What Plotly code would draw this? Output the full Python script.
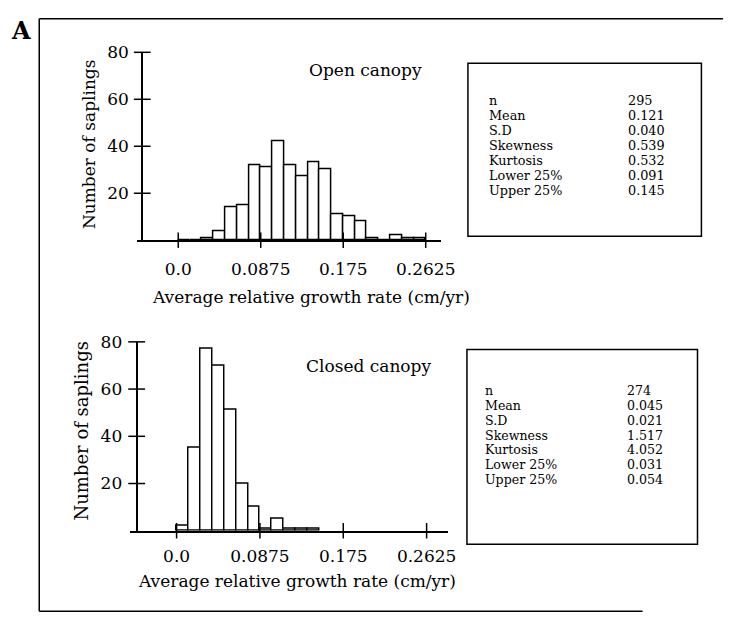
import plotly.graph_objects as go

W, H = 737, 619

# ---------------- data ----------------
bin_width = 0.0125
open_counts = [0, 0, 1, 4, 14, 15, 32, 31, 42, 32, 27, 33, 30, 11, 10, 8, 1, 0, 2, 1, 1]
closed_counts = [2, 35, 77, 70, 51, 20, 10, 1, 5, 1, 1, 1]
x_tick_vals = [0.0, 0.0875, 0.175, 0.2625]
x_tick_text = ["0.0", "0.0875", "0.175", "0.2625"]
y_tick_vals = [20, 40, 60, 80]
y_tick_text = ["20", "40", "60", "80"]
stat_names = ["n", "Mean", "S.D", "Skewness", "Kurtosis", "Lower 25%", "Upper 25%"]
open_stats = ["295", "0.121", "0.040", "0.539", "0.532", "0.091", "0.145"]
closed_stats = ["274", "0.045", "0.021", "1.517", "4.052", "0.031", "0.054"]
x_title = "Average relative growth rate (cm/yr)"
y_title = "Number of saplings"

FONT = "DejaVu Serif"


def px(x):
    return x / W


def py(y):
    return 1 - y / H


def centers(counts):
    return [(i + 0.5) * bin_width for i in range(len(counts))]


fig = go.Figure()

panels = [
    dict(counts=open_counts, xa="x", ya="y", xdom=(140, 450), x0px=181.7, ppu=961.0,
         ytop=43, ybot=234, yaxpx=145, xticklen=12, yticklen=9),
    dict(counts=closed_counts, xa="x2", ya="y2", xdom=(133, 457), x0px=180.0, ppu=971.0,
         ytop=337.3, ybot=529.3, yaxpx=139.3, xticklen=9, yticklen=10),
]

layout_axes = {}
for i, p in enumerate(panels):
    suffix = "" if i == 0 else "2"
    xr = [(p["xdom"][0] - p["x0px"]) / p["ppu"], (p["xdom"][1] - p["x0px"]) / p["ppu"]]
    yax_x = (p["yaxpx"] - p["x0px"]) / p["ppu"]
    fig.add_trace(go.Bar(
        x=centers(p["counts"]), y=p["counts"], width=bin_width,
        marker=dict(color="white", line=dict(color="black", width=1.5)),
        xaxis=p["xa"], yaxis=p["ya"], showlegend=False, hoverinfo="x+y",
    ))
    # crossing tick marks on y axis
    fig.add_trace(go.Scatter(
        x=[yax_x] * len(y_tick_vals), y=y_tick_vals, mode="markers",
        marker=dict(symbol="line-ew", size=12, line=dict(color="black", width=1.5)),
        xaxis=p["xa"], yaxis=p["ya"], showlegend=False, cliponaxis=False, hoverinfo="skip",
    ))
    # crossing tick marks on x axis
    fig.add_trace(go.Scatter(
        x=x_tick_vals, y=[0] * len(x_tick_vals), mode="markers",
        marker=dict(symbol="line-ns", size=11, line=dict(color="black", width=1.5)),
        xaxis=p["xa"], yaxis=p["ya"], showlegend=False, cliponaxis=False, hoverinfo="skip",
    ))
    layout_axes["xaxis" + suffix] = dict(
        domain=[px(p["xdom"][0]), px(p["xdom"][1])], range=xr, anchor="y" + suffix,
        tickvals=x_tick_vals, ticktext=x_tick_text, ticks="outside", ticklen=p["xticklen"],
        tickcolor="rgba(0,0,0,0)", showline=True, linecolor="black", linewidth=2,
        showgrid=False, zeroline=False, tickfont=dict(family=FONT, size=17, color="black"),
    )
    layout_axes["yaxis" + suffix] = dict(
        domain=[py(p["ybot"]), py(p["ytop"])], range=[0, 80], anchor="free",
        position=px(p["yaxpx"]),
        tickvals=y_tick_vals, ticktext=y_tick_text, ticks="outside", ticklen=p["yticklen"],
        tickcolor="rgba(0,0,0,0)", showline=True, linecolor="black", linewidth=2,
        showgrid=False, zeroline=False, tickfont=dict(family=FONT, size=17, color="black"),
    )

annotations = []


def ann(text, x, y, size, xanchor="center", yanchor="middle", angle=0, bold=False):
    annotations.append(dict(
        text=("<b>%s</b>" % text) if bold else text, x=px(x), y=py(y), xref="paper", yref="paper",
        xanchor=xanchor, yanchor=yanchor, showarrow=False, textangle=angle,
        font=dict(family=FONT, size=size, color="black"),
    ))


ann("A", 21, 21, 24, bold=True)
ann("Open canopy", 373, 61, 17)
ann("Closed canopy", 376, 362, 17)
ann(x_title, 317, 292, 17)
ann(x_title, 303, 580, 17)
ann(y_title, 91, 136, 17, angle=-90)
ann(y_title, 83, 427, 18, angle=-90)

for k, (nm, v) in enumerate(zip(stat_names, open_stats)):
    yy = 92.0 + k * 15.3
    ann(nm, 496.7, yy, 12.8, xanchor="left")
    ann(v, 638, yy, 12.8, xanchor="left")
for k, (nm, v) in enumerate(zip(stat_names, closed_stats)):
    yy = 387.0 + k * 15.0
    ann(nm, 492.7, yy, 12.6, xanchor="left")
    ann(v, 636.7, yy, 12.6, xanchor="left")

shapes = [
    # stats boxes
    dict(type="rect", xref="paper", yref="paper", x0=px(477), x1=px(715), y0=py(230), y1=py(54),
         line=dict(color="black", width=1.5)),
    dict(type="rect", xref="paper", yref="paper", x0=px(476), x1=px(711), y0=py(543), y1=py(345),
         line=dict(color="black", width=1.5)),
    # outer frame (left, top, bottom)
    dict(type="line", xref="paper", yref="paper", x0=px(40), x1=px(40), y0=py(611), y1=py(9),
         line=dict(color="black", width=1.5)),
    dict(type="line", xref="paper", yref="paper", x0=px(40), x1=px(737), y0=py(9), y1=py(9),
         line=dict(color="black", width=1.5)),
    dict(type="line", xref="paper", yref="paper", x0=px(40), x1=px(655), y0=py(611), y1=py(611),
         line=dict(color="black", width=1.5)),
]

fig.update_layout(
    width=W, height=H, margin=dict(l=0, r=0, t=0, b=0),
    paper_bgcolor="white", plot_bgcolor="white", bargap=0,
    annotations=annotations, shapes=shapes, showlegend=False,
    **layout_axes,
)

fig.write_html("out.html", post_script="document.body.style.margin='0';")
